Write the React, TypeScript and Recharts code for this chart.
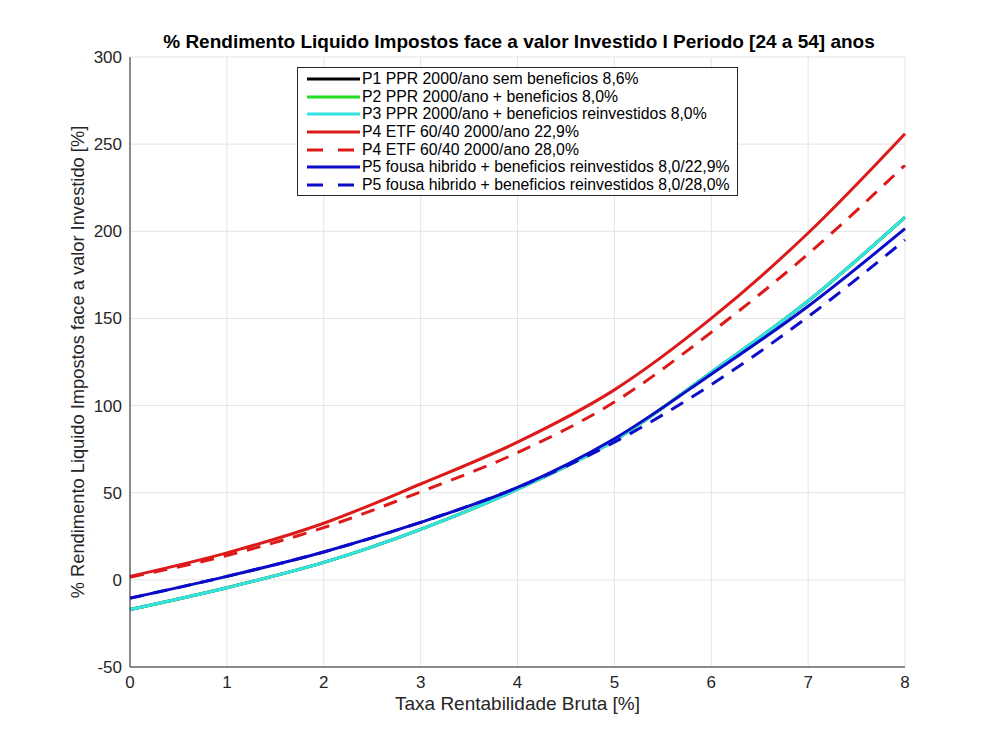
import { LineChart, Line, XAxis, YAxis, CartesianGrid } from 'recharts';

// taxa rentabilidade bruta [%]
const rates = [0, 1, 2, 3, 4, 5, 6, 7, 8];

const p1 = [-17, -4.5, 10, 29, 52, 80, 119, 160, 208];
const p2 = [-17, -4.5, 10, 29, 52, 80, 119, 160, 208];
const p3 = [-17, -4.5, 10, 29, 52, 80, 119, 160, 208];
const p4a = [2, 15.5, 32.5, 55, 79, 109, 150, 199, 256];
const p4b = [1.5, 14, 30, 50.5, 73, 102, 142, 187, 238];
const p5a = [-10.5, 2, 16, 33, 53, 81, 118, 157, 201.5];
const p5b = [-10.5, 2, 16, 33, 53, 79, 112, 151, 195];

const yTicks = [-50, 0, 50, 100, 150, 200, 250, 300];

const series = [
  { key: 'p1', name: 'P1 PPR 2000/ano sem beneficios 8,6%', color: '#000000', dash: undefined },
  { key: 'p2', name: 'P2 PPR 2000/ano + beneficios 8,0%', color: '#22dd22', dash: undefined },
  { key: 'p3', name: 'P3 PPR 2000/ano + beneficios reinvestidos 8,0%', color: '#33e3e3', dash: undefined },
  { key: 'p4a', name: 'P4 ETF 60/40 2000/ano 22,9%', color: '#dd1a1a', dash: undefined },
  { key: 'p4b', name: 'P4 ETF 60/40 2000/ano 28,0%', color: '#dd1a1a', dash: '14 10' },
  { key: 'p5a', name: 'P5 fousa hibrido + beneficios reinvestidos 8,0/22,9%', color: '#0c0cc8', dash: undefined },
  { key: 'p5b', name: 'P5 fousa hibrido + beneficios reinvestidos 8,0/28,0%', color: '#0c0cc8', dash: '14 10' },
];

const data = rates.map((x, i) => ({
  x,
  p1: p1[i],
  p2: p2[i],
  p3: p3[i],
  p4a: p4a[i],
  p4b: p4b[i],
  p5a: p5a[i],
  p5b: p5b[i],
}));

const font = '"Liberation Sans", Arial, Helvetica, sans-serif';

export default function App() {
  return (
    <div
      style={{
        position: 'absolute',
        left: 0,
        top: 0,
        width: 1000,
        height: 750,
        background: '#fff',
        fontFamily: font,
      }}
    >
      <LineChart
        width={1000}
        height={750}
        data={data}
        margin={{ top: 57, right: 95, bottom: 33, left: 70 }}
      >
        <CartesianGrid stroke="#e4e4e4" strokeWidth={1} />
        <XAxis
          dataKey="x"
          type="number"
          domain={[0, 8]}
          ticks={rates}
          height={50}
          stroke="#262626"
          tickSize={0}
          tickMargin={9}
          tick={{ fill: '#262626', fontSize: 17, fontFamily: font }}
          label={{
            value: 'Taxa Rentabilidade Bruta [%]',
            position: 'insideBottom',
            offset: 7,
            fill: '#262626',
            fontSize: 19,
            fontFamily: font,
          }}
        />
        <XAxis
          xAxisId="top"
          dataKey="x"
          type="number"
          domain={[0, 8]}
          orientation="top"
          height={0}
          tick={false}
          tickLine={false}
          stroke="#262626"
        />
        <YAxis
          type="number"
          domain={[-50, 300]}
          ticks={yTicks}
          width={60}
          stroke="#262626"
          tickSize={0}
          tickMargin={8}
          tick={{ fill: '#262626', fontSize: 17, fontFamily: font }}
          label={{
            value: '% Rendimento Liquido Impostos face a valor Investido [%]',
            angle: -90,
            position: 'insideLeft',
            offset: 0,
            dx: 8,
            style: { textAnchor: 'middle' },
            fill: '#262626',
            fontSize: 18.3,
            fontFamily: font,
          }}
        />
        <YAxis
          yAxisId="right"
          orientation="right"
          type="number"
          domain={[-50, 300]}
          width={0}
          tick={false}
          tickLine={false}
          stroke="#262626"
        />
        {series.map((s) => (
          <Line
            key={s.key}
            dataKey={s.key}
            name={s.name}
            type="monotone"
            stroke={s.color}
            strokeWidth={3}
            strokeDasharray={s.dash}
            dot={false}
            activeDot={false}
            isAnimationActive={false}
          />
        ))}
      </LineChart>

      <div
        style={{
          position: 'absolute',
          left: 519,
          top: 31,
          transform: 'translateX(-50%)',
          whiteSpace: 'nowrap',
          fontSize: 19,
          fontWeight: 'bold',
          color: '#000',
        }}
      >
        % Rendimento Liquido Impostos face a valor Investido I Periodo [24 a 54] anos
      </div>

      <div
        style={{
          position: 'absolute',
          left: 297,
          top: 67,
          width: 441,
          height: 129,
          border: '1px solid #262626',
          background: '#fff',
          boxSizing: 'border-box',
          paddingTop: 2,
        }}
      >
        {series.map((s) => (
          <div
            key={s.key}
            style={{ display: 'flex', alignItems: 'center', height: 17.7, fontSize: 15.8, color: '#000' }}
          >
            <svg width={64} height={10} style={{ flex: 'none' }}>
              <line
                x1={9}
                x2={62}
                y1={5}
                y2={5}
                stroke={s.color}
                strokeWidth={3}
                strokeDasharray={s.dash ? '16 15' : undefined}
              />
            </svg>
            <span style={{ whiteSpace: 'nowrap' }}>{s.name}</span>
          </div>
        ))}
      </div>
    </div>
  );
}
